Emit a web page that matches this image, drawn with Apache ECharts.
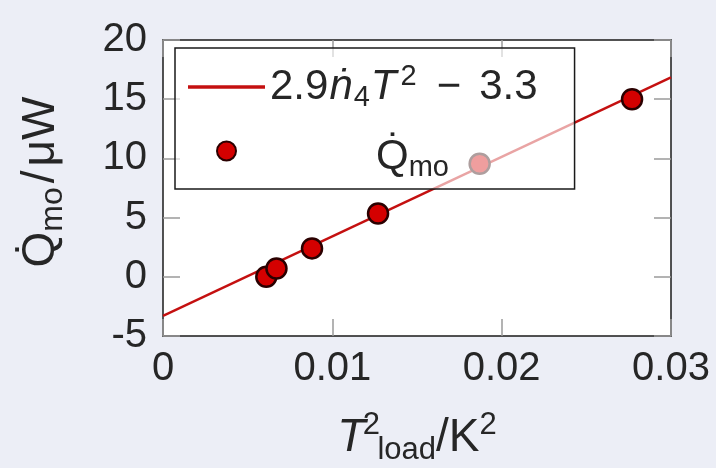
<!DOCTYPE html>
<html>
<head>
<meta charset="utf-8">
<script src="https://cdn.jsdelivr.net/npm/echarts@6/dist/echarts.min.js"></script>
<style>
html,body{margin:0;padding:0;background:#eceef6;}
#c{width:716px;height:468px;}
</style>
</head>
<body>
<div id="c"></div>
<script>
// ---- data ----
const xTicks = [0, 0.01, 0.02, 0.03];
const yTicks = [-5, 0, 5, 10, 15, 20];
const loadT2 = [0.0061, 0.0067, 0.0088, 0.0127, 0.0187, 0.0277];
const qmo    = [0.0, 0.7, 2.4, 5.35, 9.55, 15.0];
const fitT2  = [0, 0.03];
const fitQ   = [-3.3, 16.85];
const seriesNames = ['fit', 'Qmo'];

const FONT = "'Liberation Sans', Arial, sans-serif";
const TXT = '#262626';
const RED = '#d40000';
const LINE_RED = '#c41010';

const chart = echarts.init(document.getElementById('c'), null, {renderer: 'canvas'});

function tickLabel(v) {
  let best = xTicks[0];
  for (const t of xTicks) if (Math.abs(t - v) < Math.abs(best - v)) best = t;
  return String(best);
}

const axisLineStyle = {color: '#1a1a1a', width: 1.5};
const tickStyle = {color: '#9a9a9a', width: 1.5};

const option = {
  backgroundColor: '#eceef6',
  animation: false,
  grid: {left: 163, right: 45, top: 40, bottom: 132, containLabel: false, outerBoundsMode: 'none',
         show: true, backgroundColor: '#ffffff', borderWidth: 0},
  xAxis: [{
    type: 'value', position: 'bottom',
    min: xTicks[0], max: xTicks[xTicks.length - 1], interval: 0.01,
    axisLine: {show: true, onZero: false, lineStyle: axisLineStyle},
    axisTick: {show: true, inside: true, length: 17, lineStyle: tickStyle},
    splitLine: {show: false},
    axisLabel: {margin: 13, fontFamily: FONT, fontSize: 40, color: TXT, formatter: tickLabel},
    name: '{t|T}{sa|2}{sub|load}{r|/K}{sup|2}',
    nameLocation: 'middle', nameGap: 74,
    nameTextStyle: {
      fontFamily: FONT, fontSize: 46, color: TXT,
      rich: {
        t: {fontFamily: FONT, fontSize: 46, fontStyle: 'italic', color: TXT, lineHeight: 56},
        r: {fontFamily: FONT, fontSize: 46, color: TXT, lineHeight: 56},
        sa: {fontFamily: FONT, fontSize: 31, color: TXT, lineHeight: 30, verticalAlign: 'top', width: 12, align: 'left'},
        sup: {fontFamily: FONT, fontSize: 31, color: TXT, lineHeight: 30, verticalAlign: 'top'},
        sub: {fontFamily: FONT, fontSize: 31, color: TXT, lineHeight: 30, verticalAlign: 'bottom'}
      }
    }
  }, {
    type: 'value', position: 'top',
    min: xTicks[0], max: xTicks[xTicks.length - 1], interval: 0.01,
    axisLine: {show: true, onZero: false, lineStyle: axisLineStyle},
    axisTick: {show: true, inside: true, length: 17, lineStyle: tickStyle},
    splitLine: {show: false},
    axisLabel: {show: false}
  }],
  yAxis: [{
    type: 'value', position: 'left',
    min: yTicks[0], max: yTicks[yTicks.length - 1], interval: 5,
    axisLine: {show: true, onZero: false, lineStyle: axisLineStyle},
    axisTick: {show: true, inside: true, length: 17, lineStyle: tickStyle},
    splitLine: {show: false},
    axisLabel: {margin: 16, fontFamily: FONT, fontSize: 40, color: TXT},
    name: '{q|Q\u0307}{sub|mo}{s|/}{r|\u03bcW}',
    nameLocation: 'middle', nameGap: 94,
    nameTextStyle: {
      fontFamily: FONT, fontSize: 46, color: TXT, padding: [0, 0, 0, 12],
      rich: {
        q: {fontFamily: FONT, fontSize: 46, color: TXT, lineHeight: 56},
        s: {fontFamily: FONT, fontSize: 46, color: TXT, lineHeight: 56, padding: [0, 4, 0, 4]},
        r: {fontFamily: FONT, fontSize: 46, color: TXT, lineHeight: 56},
        sub: {fontFamily: FONT, fontSize: 32, color: TXT, lineHeight: 30, verticalAlign: 'bottom'}
      }
    }
  }, {
    type: 'value', position: 'right',
    min: yTicks[0], max: yTicks[yTicks.length - 1], interval: 5,
    axisLine: {show: true, onZero: false, lineStyle: axisLineStyle},
    axisTick: {show: true, inside: true, length: 17, lineStyle: tickStyle},
    splitLine: {show: false},
    axisLabel: {show: false}
  }],
  legend: {
    orient: 'vertical', left: 175, top: 48,
    itemWidth: 77, itemHeight: 19, itemGap: 12,
    padding: [14, 37, 7, 13],
    backgroundColor: 'rgba(255,255,255,0.62)',
    borderColor: '#1a1a1a', borderWidth: 1.5, borderRadius: 0,
    selectedMode: false,
    data: [
      {name: seriesNames[0], icon: 'path://M0 0H77V3.6H0Z'},
      {name: seriesNames[1]}
    ],
    formatter: function (n) {
      if (n === seriesNames[0]) return '{n|2.9}{i|\u1e45}{sub|4}{i|T}{sup|2}{m|\u2212}{n|3.3}';
      return '{sp|}{q|Q\u0307}{qs|mo}';
    },
    textStyle: {
      fontFamily: FONT, fontSize: 42, color: TXT,
      rich: {
        n: {fontFamily: FONT, fontSize: 42, color: TXT, lineHeight: 50},
        i: {fontFamily: FONT, fontSize: 42, color: TXT, lineHeight: 50, fontStyle: 'italic', padding: [0, 1, 0, 1]},
        m: {fontFamily: FONT, fontSize: 42, color: TXT, lineHeight: 50, padding: [0, 18, 0, 20]},
        sub: {fontFamily: FONT, fontSize: 29, color: TXT, lineHeight: 30, verticalAlign: 'bottom'},
        sup: {fontFamily: FONT, fontSize: 29, color: TXT, lineHeight: 30, verticalAlign: 'top', padding: [0, 0, 0, 3]},
        sp: {width: 106, lineHeight: 62},
        q: {fontFamily: FONT, fontSize: 42, color: TXT, lineHeight: 50, padding: [12, 0, 0, 0]},
        qs: {fontFamily: FONT, fontSize: 29, color: TXT, lineHeight: 30, verticalAlign: 'bottom'}
      }
    }
  },
  series: [{
    name: seriesNames[0],
    type: 'line',
    xAxisIndex: 0, yAxisIndex: 0,
    data: fitT2.map((x, i) => [x, fitQ[i]]),
    symbol: 'none', showSymbol: false,
    lineStyle: {color: LINE_RED, width: 2.4},
    itemStyle: {color: LINE_RED},
    z: 2
  }, {
    name: seriesNames[1],
    type: 'scatter',
    xAxisIndex: 0, yAxisIndex: 0,
    data: loadT2.map((x, i) => [x, qmo[i]]),
    symbol: 'circle', symbolSize: 20,
    itemStyle: {color: RED, borderColor: '#2a0000', borderWidth: 2.5, opacity: 1},
    z: 3
  }]
};

chart.setOption(option);
</script>
</body>
</html>
